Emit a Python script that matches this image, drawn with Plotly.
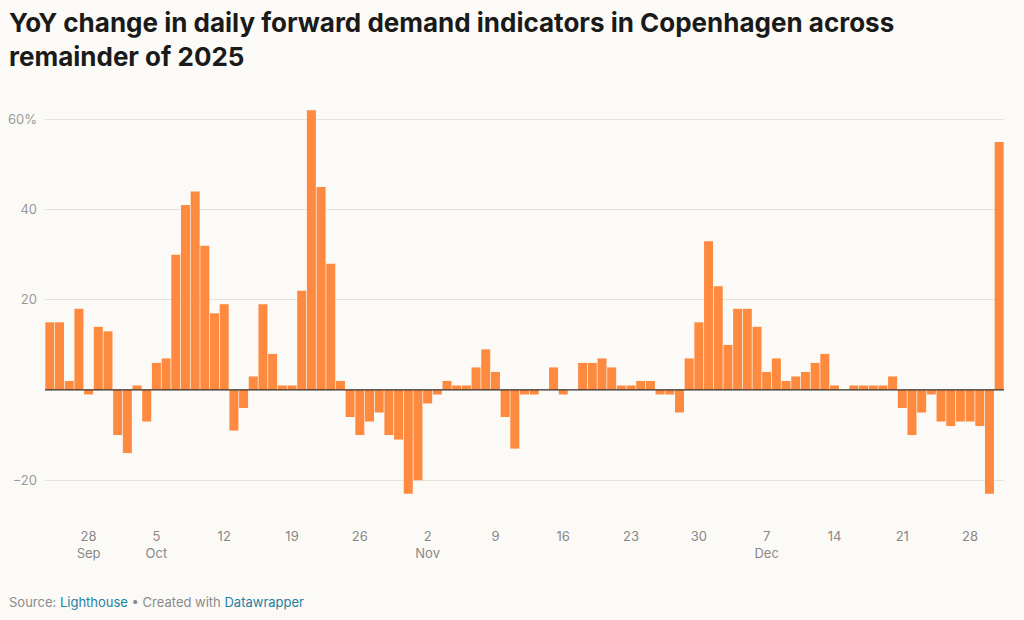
import plotly.graph_objects as go
import pandas as pd

# ---- data ----
start_date = "2025-09-24"
end_date = "2025-12-31"
yoy_change = [
    # Sep 24-30
    15, 15, 2, 18, -1, 14, 13,
    # Oct
    -10, -14, 1, -7, 6, 7, 30, 41, 44, 32, 17, 19, -9, -4, 3, 19, 8, 1, 1, 22,
    62, 45, 28, 2, -6, -10, -7, -5, -10, -11, -23,
    # Nov
    -20, -3, -1, 2, 1, 1, 5, 9, 4, -6, -13, -1, -1, 0, 5, -1, 0, 6, 6, 7, 5, 1,
    1, 2, 2, -1, -1, -5, 7, 15,
    # Dec
    33, 23, 10, 18, 18, 14, 4, 7, 2, 3, 4, 6, 8, 1, 0, 1, 1, 1, 1, 3, -4, -10,
    -5, -1, -7, -8, -7, -7, -8, -23, 55,
]
x_tick_dates = ["2025-09-28", "2025-10-05", "2025-10-12", "2025-10-19", "2025-10-26",
                "2025-11-02", "2025-11-09", "2025-11-16", "2025-11-23", "2025-11-30",
                "2025-12-07", "2025-12-14", "2025-12-21", "2025-12-28"]
x_tick_labels = ["28<br>Sep", "5<br>Oct", "12", "19", "26", "2<br>Nov", "9", "16",
                 "23", "30", "7<br>Dec", "14", "21", "28"]
y_tick_values = [60, 40, 20, 0, -20]
y_tick_labels = ["60%", "40", "20", "", "−20"]

dates = pd.date_range(start_date, end_date, freq="D")

BG = "#fcfaf6"
BAR = "#fd8a3e"
FONT = "Inter"

fig = go.Figure()
fig.add_trace(go.Bar(x=dates, y=yoy_change, marker=dict(color=BAR, line=dict(width=0)),
                     hoverinfo="x+y"))

fig.add_shape(type="line", xref="paper", x0=0, x1=1, yref="y", y0=0, y1=0,
              line=dict(color="#333333", width=1.2), layer="above")

fig.update_layout(
    width=1024, height=620,
    paper_bgcolor=BG, plot_bgcolor=BG,
    margin=dict(l=45, r=20, t=100, b=120, autoexpand=False),
    bargap=0.07,
    showlegend=False,
    font=dict(family=FONT, color="#888888"),
    xaxis=dict(
        type="date", automargin=False,
        range=["2025-09-23 12:00", "2025-12-31 12:00"],
        tickvals=x_tick_dates, ticktext=x_tick_labels,
        showgrid=False, zeroline=False, showline=False, ticks="",
        tickfont=dict(family=FONT, size=13, color="#888888"),
        ticklabelstandoff=27,
    ),
    yaxis=dict(
        automargin=False,
        range=[-24.4, 64.3],
        tickvals=y_tick_values, ticktext=y_tick_labels,
        showgrid=True, gridcolor="#e6e3de", gridwidth=1,
        zeroline=False, showline=False, ticks="",
        tickfont=dict(family=FONT, size=13, color="#9a9a9a"),
        ticklabelstandoff=7,
    ),
)

fig.add_annotation(
    xref="paper", yref="paper", x=(7 - 45) / 959, y=(500 - 5) / 400,
    xanchor="left", yanchor="top", showarrow=False, align="left",
    text="<b>YoY change in daily forward demand indicators in Copenhagen across<br>remainder of 2025</b>",
    font=dict(family=FONT, size=26, color="#1a1a1a"),
)

fig.add_annotation(
    xref="paper", yref="paper", x=(7 - 45) / 959, y=(500 - 602) / 400,
    xanchor="left", yanchor="middle", showarrow=False, align="left",
    text=("<span style='color:#8a8a8a'>Source: </span>"
          "<span style='color:#1d81a2'>Lighthouse</span>"
          "<span style='color:#8a8a8a'> • Created with </span>"
          "<span style='color:#1d81a2'>Datawrapper</span>"),
    font=dict(family=FONT, size=13),
)

fig.write_html("out.html", config={"displayModeBar": False},
               post_script="document.body.style.margin='0';")
